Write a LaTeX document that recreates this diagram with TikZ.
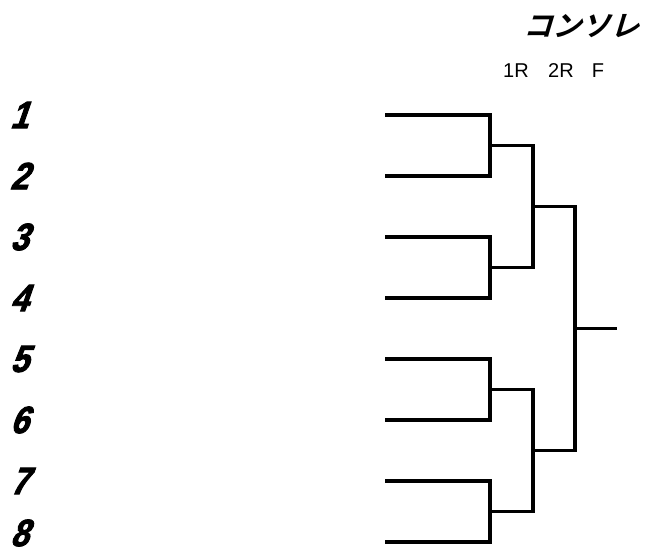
\documentclass[tikz,border=0pt]{standalone}
\usepackage{fontspec}
\setmainfont{Liberation Sans}
\newfontfamily\numfont{Liberation Sans Bold}[FakeSlant=0.35,FakeStretch=0.85,FakeBold=2.5]
\newfontfamily\cjk{Noto Sans CJK JP Bold}[FakeSlant=0.3]

\tikzset{
  seed/.style={font=\numfont\fontsize{38}{38}\selectfont, inner sep=0pt, anchor=center},
  round/.style={font=\fontsize{20}{20}\selectfont, anchor=center},
  bracket/.style={line width=3.2pt, line join=miter}
}

\begin{document}
\begin{tikzpicture}[x=1pt,y=-1pt]
\useasboundingbox (0,0) rectangle (648,555);

% titre
\node[font=\cjk\fontsize{29}{29}\selectfont] (title) at (581,26) {コンソレ};
\node[round] (r1) at (516,71) {1R};
\node[round] (r2) at (561,71) {2R};
\node[round] (rf) at (598,71) {F};

% numeros
\node[seed] (n1) at (19,115) {1};
\node[seed] (n2) at (19,176) {2};
\node[seed] (n3) at (19,237) {3};
\node[seed] (n4) at (19,298) {4};
\node[seed] (n5) at (19,359) {5};
\node[seed] (n6) at (19,420) {6};
\node[seed] (n7) at (19,481) {7};
\node[seed] (n8) at (19,533) {8};

% departs
\coordinate (s1) at (385,115);
\coordinate (s2) at (385,176);
\coordinate (s3) at (385,237);
\coordinate (s4) at (385,298);
\coordinate (s5) at (385,359);
\coordinate (s6) at (385,420);
\coordinate (s7) at (385,481);
\coordinate (s8) at (385,542);

% 1R
\coordinate (j12) at (490,145.5);
\coordinate (j34) at (490,267.5);
\coordinate (j56) at (490,389.5);
\coordinate (j78) at (490,511.5);
\draw[bracket] (s1) -| (j12) |- (s2);
\draw[bracket] (s3) -| (j34) |- (s4);
\draw[bracket] (s5) -| (j56) |- (s6);
\draw[bracket] (s7) -| (j78) |- (s8);

% 2R
\coordinate (q1) at (533,206.5);
\coordinate (q2) at (533,450.5);
\draw[bracket] (j12) -| (q1) |- (j34);
\draw[bracket] (j56) -| (q2) |- (j78);

% F
\coordinate (fin) at (575,328.5);
\coordinate (champ) at (617,328.5);
\draw[bracket] (q1) -| (fin) |- (q2);
\draw[bracket] (fin) -- (champ);

\end{tikzpicture}
\end{document}
